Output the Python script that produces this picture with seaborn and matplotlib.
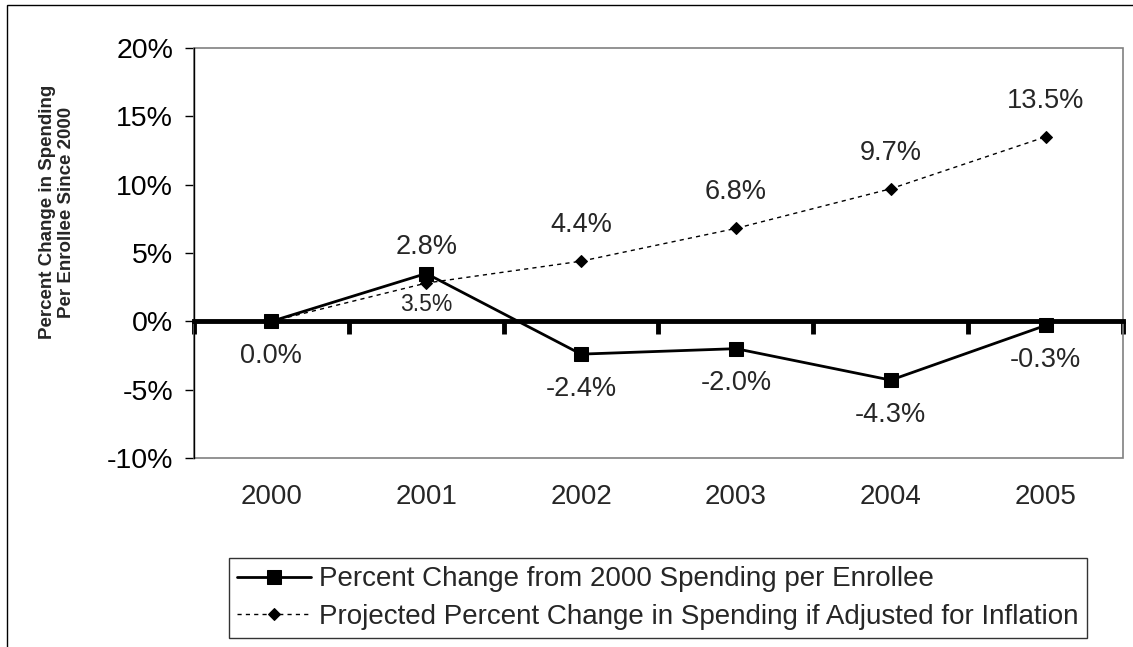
import numpy as np
import pandas as pd
import matplotlib
matplotlib.use('Agg')
import matplotlib.pyplot as plt
import matplotlib.transforms as mtransforms
from matplotlib.patches import Rectangle
import seaborn as sns

# data
years = ['2000', '2001', '2002', '2003', '2004', '2005']
actual = [0.0, 3.5, -2.4, -2.0, -4.3, -0.3]
projected = [0.0, 2.8, 4.4, 6.8, 9.7, 13.5]
actual_labels = ['0.0%', '3.5%', '-2.4%', '-2.0%', '-4.3%', '-0.3%']
projected_labels = ['', '2.8%', '4.4%', '6.8%', '9.7%', '13.5%']
name_actual = 'Percent Change from 2000 Spending per Enrollee'
name_proj = 'Projected Percent Change in Spending if Adjusted for Inflation'

sns.set_style('white')
plt.rcParams['font.family'] = ['Liberation Sans', 'DejaVu Sans']

df = pd.DataFrame({'pos': np.arange(len(years)), 'year': years,
                   'actual': actual, 'projected': projected})

fig = plt.figure(figsize=(11.33, 6.47), dpi=100)
ax = fig.add_axes([194/1133, 1-458/647, (1123-194)/1133, (458-48)/647])

# outer chart frame
fig.patches.append(Rectangle((7/1133, -0.1), 1.1, 1-5/647+0.1, transform=fig.transFigure,
                             fill=False, edgecolor='black', linewidth=1, zorder=0))

sns.lineplot(data=df, x='pos', y='projected', ax=ax, color='black', linewidth=1,
             linestyle=(0, (3, 3)), marker='D', markersize=6, markeredgecolor='black',
             label=name_proj, zorder=3)
sns.lineplot(data=df, x='pos', y='actual', ax=ax, color='black', linewidth=2,
             marker='s', markersize=10, markeredgecolor='black',
             label=name_actual, zorder=4)

ax.set_xlim(-0.5, len(years) - 0.5)
ax.set_ylim(-10, 20)
ax.set_yticks(np.arange(-10, 21, 5))
ax.set_yticklabels(['{0}%'.format(v) for v in range(-10, 21, 5)], fontsize=20.5)
ax.tick_params(axis='y', direction='out', length=6.5, width=1, left=True, pad=8.5, colors='black')

# x axis drawn at zero, ticks at category boundaries
for s in ['top', 'right']:
    ax.spines[s].set_visible(False)
ax.spines['left'].set_color('black')
ax.spines['left'].set_linewidth(1)
ax.spines['bottom'].set_position(('data', 0))
ax.spines['bottom'].set_linewidth(3.5)
ax.spines['bottom'].set_color('black')
ax.spines['bottom'].set_zorder(2)
ax.set_xticks(np.arange(-0.5, len(years), 1))
ax.set_xticklabels([])
ax.tick_params(axis='x', direction='out', length=9, width=3.5, bottom=True, colors='black')
ax.add_patch(Rectangle((0, 0), 1, 1, transform=ax.transAxes, fill=False,
                       edgecolor='#808080', linewidth=1.2, zorder=1, clip_on=False))

trans = mtransforms.blended_transform_factory(ax.transData, ax.transAxes)
for i, y in enumerate(years):
    ax.text(i, -0.095, y, transform=trans, ha='center', va='center', fontsize=20)

ax.set_xlabel('')
ax.set_ylabel('')
fig.text(57/1133, 1-212/647, 'Percent Change in Spending\nPer Enrollee Since 2000',
         rotation=90, ha='center', va='center', fontsize=13.5, fontweight='bold',
         linespacing=1.2)

# data labels
for i in range(len(years)):
    if projected_labels[i]:
        ax.annotate(projected_labels[i], (i, projected[i]), xytext=(0, 26),
                    textcoords='offset points', ha='center', va='center', fontsize=19.5)
    if i == 1:
        ax.annotate(actual_labels[i], (i, actual[i]), xytext=(0, -22),
                    textcoords='offset points', ha='center', va='center', fontsize=16.5)
    else:
        ax.annotate(actual_labels[i], (i, actual[i]), xytext=(0, -25),
                    textcoords='offset points', ha='center', va='center', fontsize=19.5)

h, l = ax.get_legend_handles_labels()
ax.get_legend().remove()
leg = fig.legend(h[::-1], l[::-1], loc='center', bbox_to_anchor=(658/1133, 1-598/647),
                 fontsize=20, frameon=True, fancybox=False, edgecolor='black',
                 handlelength=2.65, handletextpad=0.3, labelspacing=0.4,
                 borderpad=0.3, numpoints=1)
leg.get_frame().set_linewidth(1)

fig.savefig('out.png', dpi=100)
